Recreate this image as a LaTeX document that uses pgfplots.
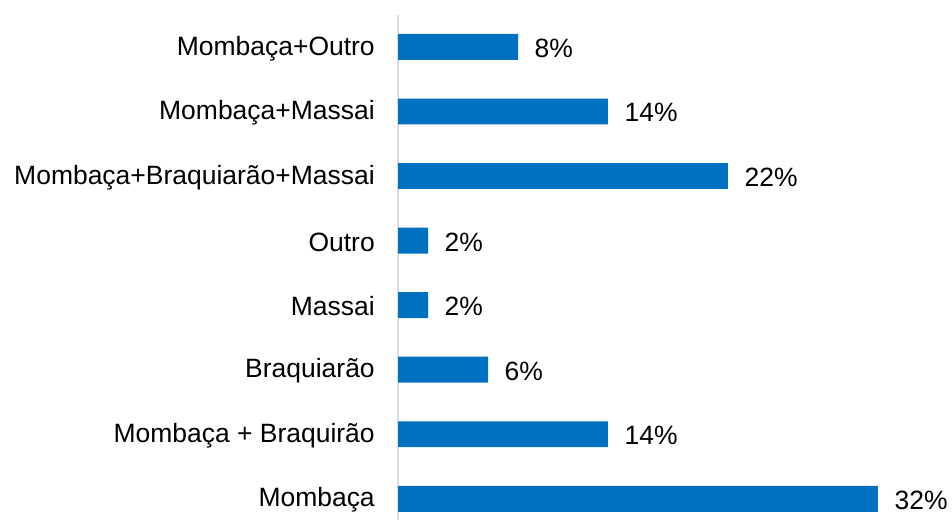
\documentclass[border=0pt]{standalone}
\usepackage{pgfplots}
\pgfplotsset{compat=1.18}
\usepackage{fontspec}
\setmainfont{Liberation Sans}
\definecolor{barblue}{HTML}{0070C0}
\definecolor{axgray}{HTML}{D9DCE6}
\begin{document}
\begin{tikzpicture}[x=0.75pt,y=0.75pt]
\begin{axis}[
  scale only axis,
  width=360.75pt, height=379.5pt,
  xmin=0, xmax=32,
  ymin=-0.325, ymax=7.495,
  xbar, bar width=19.5pt,
  axis x line=none,
  axis y line*=left,
  y axis line style={draw=axgray, line width=1pt},
  ytick={0,...,7},
  yticklabels={Mombaça, Mombaça + Braquirão, Braquiarão, Massai, Outro, Mombaça+Braquiarão+Massai, Mombaça+Massai, Mombaça+Outro},
  major tick length=0pt,
  /pgf/number format/assume math mode=true,
  yticklabel style={font=\fontsize{19.9}{22}\selectfont, xshift=-14pt, yshift=-1pt},
  nodes near coords={\pgfmathprintnumber{\pgfplotspointmeta}\%},
  nodes near coords style={font=\fontsize{19.9}{22}\selectfont, anchor=west, xshift=9pt, yshift=-1pt},
  point meta=x,
  clip=false,
]
\addplot[fill=barblue, draw=none] coordinates {
(32,0) (14,1) (6,2) (2,3) (2,4) (22,5) (14,6) (8,7)};
\end{axis}
\path (current axis.south west) ++(-399,0) (current axis.north east) ++(72,15);
\end{tikzpicture}
\end{document}
